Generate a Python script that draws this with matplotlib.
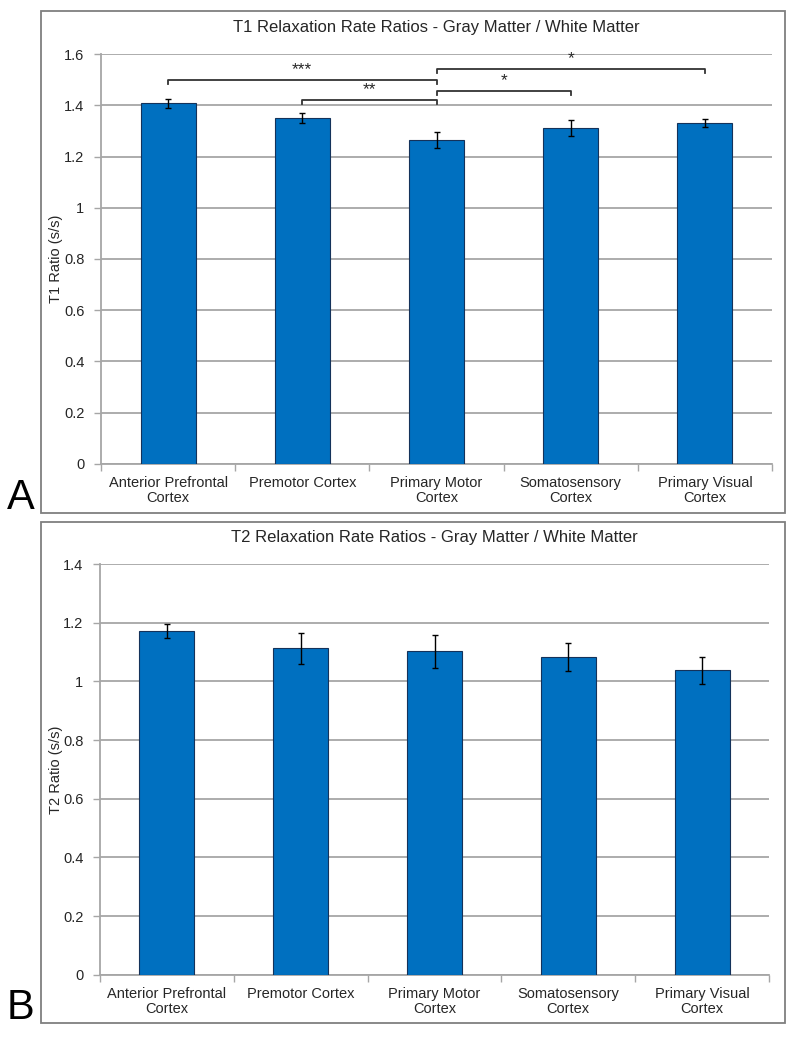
import matplotlib
matplotlib.use("Agg")
import matplotlib.pyplot as plt
from matplotlib.patches import Rectangle

# data
regions = ["Anterior Prefrontal\nCortex", "Premotor Cortex", "Primary Motor\nCortex",
           "Somatosensory\nCortex", "Primary Visual\nCortex"]
t1_ratio = [1.408, 1.351, 1.265, 1.311, 1.330]
t1_err = [0.018, 0.018, 0.032, 0.031, 0.016]
t2_ratio = [1.172, 1.112, 1.102, 1.084, 1.037]
t2_err = [0.025, 0.052, 0.056, 0.048, 0.047]

# significance brackets: (left bar, right bar, bracket height, label)
t1_sig = [(0, 2, 1.500, "***"), (1, 2, 1.423, "**"),
          (2, 3, 1.458, "*"), (2, 4, 1.543, "*")]

plt.rcParams['font.family'] = ['Liberation Sans', 'DejaVu Sans']
bar_color = '#0070c0'
grid_color = '#a6a6a6'
text_color = '#262626'

fig = plt.figure(figsize=(7.97, 10.49), dpi=100)
W, H = 797.0, 1049.0


def px_axes(left, top, right, bottom):
    return fig.add_axes([left / W, 1 - bottom / H, (right - left) / W, (bottom - top) / H])


def draw_panel(ax, values, errs, ymax, title, ylabel, axis_left, axis_right):
    x = list(range(len(values)))
    ax.bar(x, values, width=0.41, color=bar_color, edgecolor='#14325a', linewidth=0.8, zorder=3)
    ax.errorbar(x, values, yerr=errs, fmt='none', ecolor='black', elinewidth=1,
                capsize=2.5, capthick=1, zorder=4)
    ax.set_xlim(-0.5, len(values) - 0.5)
    ax.set_ylim(0, ymax)
    ticks = [round(0.2 * i, 1) for i in range(int(round(ymax / 0.2)) + 1)]
    ax.set_yticks(ticks)
    ax.set_yticklabels([f"{t:g}" for t in ticks])
    ax.yaxis.grid(True, color=grid_color, linewidth=1.3, zorder=0)
    ax.set_axisbelow(True)
    ax.set_xticks(x)
    ax.set_xticklabels(regions, fontsize=10.5, color=text_color, linespacing=1.05)
    ax.set_xticks([i - 0.5 for i in range(len(values) + 1)], minor=True)
    ax.tick_params(axis='x', which='major', length=0, pad=9)
    ax.tick_params(axis='x', which='minor', length=5, color=grid_color, width=1)
    ax.tick_params(axis='y', length=5, color=grid_color, width=1, labelsize=10.5,
                   labelcolor=text_color, pad=7)
    for s in ['top', 'right']:
        ax.spines[s].set_visible(False)
    for s in ['left', 'bottom']:
        ax.spines[s].set_color(grid_color)
        ax.spines[s].set_linewidth(1.3)
    ax.set_title(title, fontsize=12, color=text_color, pad=16)
    ax.set_ylabel(ylabel, fontsize=10.5, color=text_color)
    # label's right edge sits at this x, so its centre lands near 57 px
    ax.yaxis.set_label_coords((63 - axis_left) / (axis_right - axis_left), 0.5)


ax1 = px_axes(101, 54.3, 772, 463.7)
draw_panel(ax1, t1_ratio, t1_err, 1.6,
           "T1 Relaxation Rate Ratios - Gray Matter / White Matter", "T1 Ratio (s/s)", 101, 772)
for a, b, h, lab in t1_sig:
    ax1.plot([a, a, b, b], [h - 0.017, h, h, h - 0.017], color='#333333', lw=1.3, zorder=5)
    ax1.text((a + b) / 2, h + 0.01, lab, ha='center', va='bottom', fontsize=12.5, color=text_color)

ax2 = px_axes(100, 564, 769, 974.7)
draw_panel(ax2, t2_ratio, t2_err, 1.4,
           "T2 Relaxation Rate Ratios - Gray Matter / White Matter", "T2 Ratio (s/s)", 100, 769)

# panel frames and letters
for top, bottom in [(11.3, 513), (522, 1022.7)]:
    fig.patches.append(Rectangle((40.7 / W, 1 - bottom / H), (785.3 - 40.7) / W, (bottom - top) / H,
                                 transform=fig.transFigure, fill=False,
                                 edgecolor='#7f7f7f', linewidth=1.3))
fig.text(21 / W, 1 - 498 / H, "A", fontsize=30, ha='center', va='center', color='black')
fig.text(21 / W, 1 - 1008 / H, "B", fontsize=30, ha='center', va='center', color='black')

fig.savefig("out.png", dpi=100)
